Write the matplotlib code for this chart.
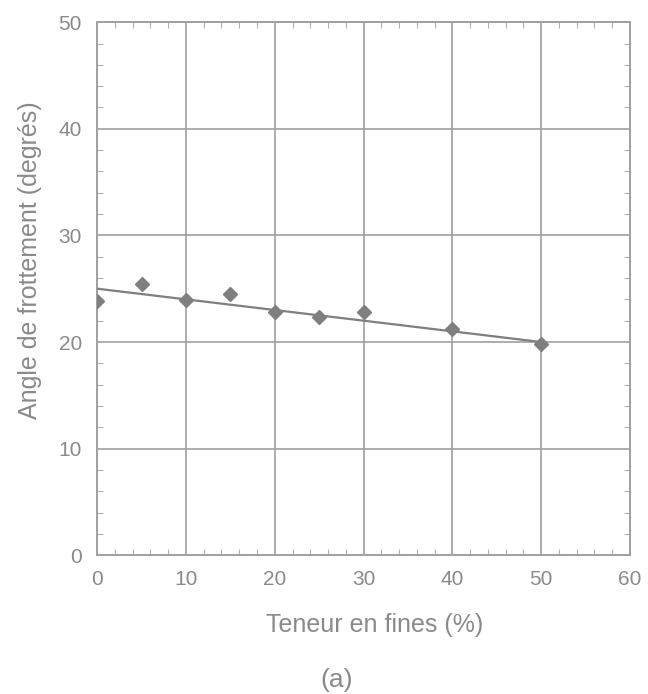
import numpy as np
import matplotlib.pyplot as plt

plt.rcParams['font.family'] = ['Liberation Sans', 'DejaVu Sans']

# fines content (%) and friction angle (degrees)
fines = [0, 5, 10, 15, 20, 25, 30, 40, 50]
angle = [23.8, 25.4, 23.9, 24.5, 22.8, 22.3, 22.8, 21.2, 19.8]

# linear trend
trend_x = [0, 50]
trend_y = [25.0, 20.0]

grey = '#7f7f7f'
textgrey = '#8a8a8a'

fig = plt.figure(figsize=(6.48, 6.94), dpi=100)
ax = fig.add_axes([0.150, 0.200, 0.822, 0.768])

ax.plot(trend_x, trend_y, color=grey, lw=1.6, zorder=3)
ax.plot(fines, angle, linestyle='none', marker='D', ms=7.5, color=grey, zorder=4)

ax.set_xlim(0, 60)
ax.set_ylim(0, 50)
ax.set_xticks(np.arange(0, 61, 10))
ax.set_yticks(np.arange(0, 51, 10))
ax.set_xticks(np.arange(0, 61, 2), minor=True)
ax.set_yticks(np.arange(0, 51, 2), minor=True)
ax.grid(True, which='major', color='#a0a0a0', lw=1.2)
ax.set_axisbelow(True)

for s in ax.spines.values():
    s.set_color('#a0a0a0')
    s.set_linewidth(1.4)

ax.tick_params(which='both', direction='in', top=True, right=True, colors='#b0b0b0',
               labelcolor=textgrey, labelsize=15)
ax.tick_params(which='major', length=0, pad=11)
ax.tick_params(which='minor', length=4, width=0.8)

ax.set_xlabel('Teneur en fines (%)', fontsize=18, color=textgrey, va='center')
ax.xaxis.set_label_coords(0.52, -0.131)
ax.set_ylabel('Angle de frottement (degrés)', fontsize=18, color=textgrey, va='center')
ax.yaxis.set_label_coords(-0.126, 0.553)

fig.text(0.52, 0.02, '(a)', ha='center', va='center', fontsize=19, color=textgrey)

fig.savefig('out.png', dpi=100, facecolor='white')
